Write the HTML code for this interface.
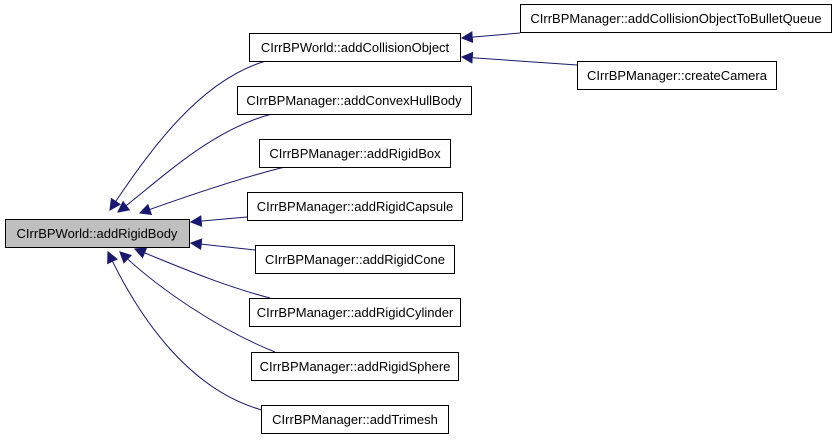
<!DOCTYPE html><html><head><style>body{margin:0;background:#fff}svg{display:block}text{font-family:"Liberation Sans",sans-serif;font-size:13px;fill:#000}</style></head><body>
<svg width="837" height="440" viewBox="0 0 837 440">
<defs><marker id="a" viewBox="0 0 10 10" refX="9" refY="5" markerWidth="12" markerHeight="12" markerUnits="userSpaceOnUse" orient="auto"><path d="M10,5L0,0L0,10Z" fill="#191970"/></marker></defs>
<g fill="none" stroke="#191970" stroke-width="1">
<path d="M266,61C200,80 150,150 110,210" marker-end="url(#a)"/>
<path d="M272,114C210,130 160,180 118,212" marker-end="url(#a)"/>
<path d="M285,167C240,178 190,195 140,213" marker-end="url(#a)"/>
<path d="M247,217L191,222" marker-end="url(#a)"/>
<path d="M255,250L191,243" marker-end="url(#a)"/>
<path d="M270,298C220,285 175,265 135,249" marker-end="url(#a)"/>
<path d="M275,352C220,330 160,290 120,252" marker-end="url(#a)"/>
<path d="M262,410C190,390 140,320 108,252" marker-end="url(#a)"/>
<path d="M520,33L462,38" marker-end="url(#a)"/>
<path d="M577,65L462,57" marker-end="url(#a)"/>
</g>
<g stroke="#000" stroke-width="1" fill="#fff">
<rect x="5.5" y="219.5" width="184" height="28" fill="#bfbfbf"/>
<rect x="249.5" y="33.5" width="211" height="28"/>
<rect x="237.5" y="86.5" width="234" height="28"/>
<rect x="259.5" y="139.5" width="191" height="28"/>
<rect x="247.5" y="192.5" width="215" height="28"/>
<rect x="255.5" y="245.5" width="199" height="28"/>
<rect x="249.5" y="298.5" width="211" height="28"/>
<rect x="251.5" y="352.5" width="207" height="28"/>
<rect x="261.5" y="405.5" width="187" height="28"/>
<rect x="520.5" y="4.5" width="311" height="28"/>
<rect x="577.5" y="61.5" width="199" height="28"/>
</g>
<g text-anchor="middle">
<text x="97" y="238">CIrrBPWorld::addRigidBody</text>
<text x="355" y="52">CIrrBPWorld::addCollisionObject</text>
<text x="354" y="105">CIrrBPManager::addConvexHullBody</text>
<text x="355" y="158">CIrrBPManager::addRigidBox</text>
<text x="355" y="211">CIrrBPManager::addRigidCapsule</text>
<text x="355" y="264">CIrrBPManager::addRigidCone</text>
<text x="355" y="317">CIrrBPManager::addRigidCylinder</text>
<text x="355" y="371">CIrrBPManager::addRigidSphere</text>
<text x="355" y="424">CIrrBPManager::addTrimesh</text>
<text x="676" y="23">CIrrBPManager::addCollisionObjectToBulletQueue</text>
<text x="677" y="80">CIrrBPManager::createCamera</text>
</g>
</svg></body></html>
